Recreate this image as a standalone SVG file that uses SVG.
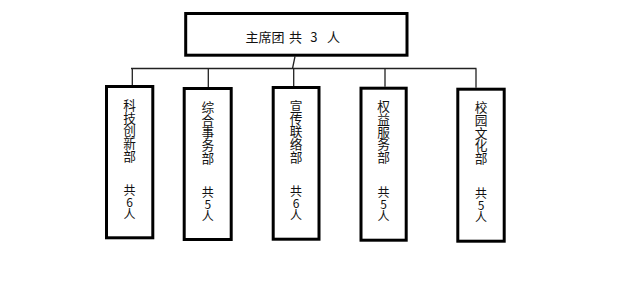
<svg xmlns="http://www.w3.org/2000/svg" width="638" height="286" viewBox="0 0 638 286">
<style>
.box{fill:#fff;stroke:#000;stroke-width:3}
.ln{fill:none;stroke:#222;stroke-width:1.3}
text{font-family:"Microsoft YaHei","Noto Sans CJK SC","Noto Sans",sans-serif;font-size:13px;fill:#111}
.v{writing-mode:vertical-rl;text-orientation:upright;font-size:12.7px}
.n{writing-mode:vertical-rl;text-orientation:upright;font-size:12px}
</style>
<rect width="638" height="286" fill="#fff"/>
<g id="connectors">
<path class="ln" d="M295 56.5L292.5 68.5M131 68.5H476.5M132.3 68.5V85M208.3 68.5V87M293.7 68.5V86M385 68.5V86.7M476 68.5V87.7"/>
</g>
<g id="node-top">
<rect class="box" x="185.7" y="13.5" width="221.3" height="41.7"/>
<text y="41.8"><tspan x="245.5">主席团</tspan><tspan x="289">共</tspan><tspan x="310.3">3</tspan><tspan x="327">人</tspan></text>
</g>
<g id="node-1">
<rect class="box" x="106.5" y="86.5" width="46.3" height="151.3"/>
<text class="v" x="129.6" y="98.7">科技创新部</text>
<text class="n" x="129.6" y="184.6">共6人</text>
</g>
<g id="node-2">
<rect class="box" x="184.2" y="88.5" width="47" height="151"/>
<text class="v" x="207.8" y="100.7">综合事务部</text>
<text class="n" x="207.8" y="186.6">共5人</text>
</g>
<g id="node-3">
<rect class="box" x="273.2" y="87.5" width="45.8" height="151.7"/>
<text class="v" x="296" y="99.7">宣传联络部</text>
<text class="n" x="296" y="185.6">共6人</text>
</g>
<g id="node-4">
<rect class="box" x="361" y="88.2" width="45.2" height="152"/>
<text class="v" x="383.6" y="100.2">权益服务部</text>
<text class="n" x="383.6" y="186.1">共5人</text>
</g>
<g id="node-5">
<rect class="box" x="457.8" y="89.2" width="46.4" height="152"/>
<text class="v" x="481" y="101.2">校园文化部</text>
<text class="n" x="481" y="187.1">共5人</text>
</g>
</svg>
